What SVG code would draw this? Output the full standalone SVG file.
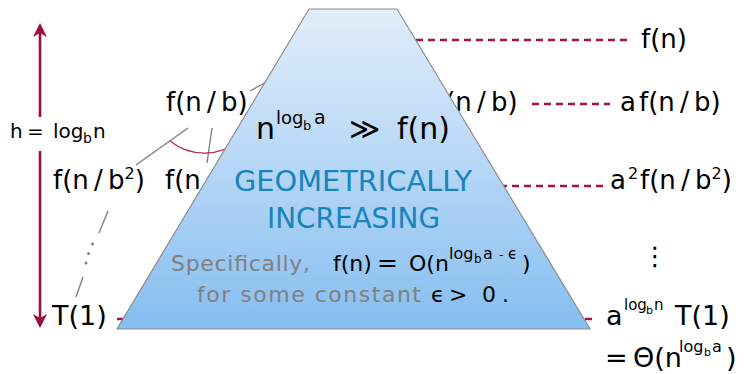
<svg xmlns="http://www.w3.org/2000/svg" width="753" height="374" viewBox="0 0 753 374">
<defs>
<style>
.t{font-family:"DejaVu Sans","Liberation Sans",sans-serif;fill:#000}
.g{fill:#808080}
.teal{fill:#1784bb}
.dash{stroke:#a3134a;stroke-width:2.4;stroke-dasharray:7 5;fill:none}
.edge{stroke:#808080;stroke-width:1.4;fill:none}
.arc{stroke:#b0285a;stroke-width:1.2;fill:none}
.arrow{stroke:#9c0c40;stroke-width:2.6;fill:none}
</style>
<linearGradient id="tg" x1="0" y1="0" x2="0" y2="1">
<stop offset="0" stop-color="#e1edfa"/>
<stop offset="0.5" stop-color="#b5d6f6"/>
<stop offset="1" stop-color="#85bef0"/>
</linearGradient>
<marker id="ah" viewBox="0 0 14 14" markerWidth="14" markerHeight="14" refX="10" refY="7" orient="auto" markerUnits="userSpaceOnUse">
<path d="M0,0 L14,7 L0,14 L4,7 z" fill="#9c0c40"/>
</marker>
</defs>
<rect width="753" height="374" fill="#fff"/>

<g id="connectors">
<line class="arrow" x1="40" y1="117" x2="40" y2="27" marker-end="url(#ah)"/>
<line class="arrow" x1="40" y1="151" x2="40" y2="324" marker-end="url(#ah)"/>
<line class="dash" x1="392" y1="40" x2="629" y2="40"/>
<line class="dash" x1="532" y1="104" x2="610" y2="104"/>
<line class="dash" x1="500" y1="186" x2="603" y2="186"/>
<line class="dash" x1="117" y1="319" x2="597" y2="319"/>
<line class="edge" x1="250" y1="91" x2="290" y2="69"/>
<line class="edge" x1="188" y1="128" x2="136" y2="165"/>
<line class="edge" x1="212" y1="128" x2="207" y2="163"/>
<path class="arc" d="M170,141 A55,55 0 0 0 240,140"/>
<line class="edge" x1="108" y1="211" x2="99" y2="233"/>
<circle cx="92.5" cy="244" r="1.5" fill="#808080"/>
<circle cx="88.5" cy="253.5" r="1.5" fill="#808080"/>
<circle cx="86" cy="263" r="1.5" fill="#808080"/>
<line class="edge" x1="83" y1="277" x2="76" y2="297"/>
</g>

<g id="node-fnb-mid">
<text class="t" x="436" y="111" font-size="26">f(n&#8201;/&#8201;b)</text>
</g>
<g id="node-fnb2-mid">
<text class="t" x="165" y="189" font-size="26">f(n&#8201;/&#8201;b<tspan font-size="16" dy="-10">2</tspan><tspan dy="10">)</tspan></text>
</g>

<g id="trapezoid">
<polygon points="309,9 397,9 590,329 117,329" fill="url(#tg)" stroke="#8c8c8c" stroke-width="1.2"/>
<text class="t" font-size="30"><tspan x="256" y="139">n</tspan><tspan x="276" y="124" font-size="18">log</tspan><tspan x="303" y="130" font-size="13">b</tspan><tspan x="314" y="124" font-size="19">a</tspan><tspan x="349" y="139">≫</tspan><tspan x="397" y="139">f(n)</tspan></text>
<text class="t teal" x="234" y="191" font-size="28" textLength="238" lengthAdjust="spacingAndGlyphs">GEOMETRICALLY</text>
<text class="t teal" x="267" y="228" font-size="28" textLength="173" lengthAdjust="spacingAndGlyphs">INCREASING</text>
<text class="t g" x="171" y="271" font-size="22" textLength="139">Specifically,</text>
<text class="t" font-size="22"><tspan x="333" y="271">f(n)</tspan><tspan x="377" y="271" font-size="25">=</tspan><tspan x="409" y="271">O(n</tspan><tspan x="449" y="259" font-size="16">log</tspan><tspan x="474" y="263" font-size="12">b</tspan><tspan x="483" y="259" font-size="16">a</tspan><tspan x="499" y="259" font-size="12">-</tspan><tspan x="508" y="259" font-size="15">ϵ</tspan><tspan x="522" y="271">)</tspan></text>
<text class="t g" x="197" y="302" font-size="22" textLength="224">for some constant</text>
<text class="t" font-size="22"><tspan x="431" y="302">ϵ</tspan><tspan x="449" y="302">&gt;</tspan><tspan x="482" y="302">0</tspan><tspan x="502" y="302">.</tspan></text>
</g>

<g id="label-h">
<text class="t" font-size="20"><tspan x="10" y="138">h</tspan><tspan x="27" y="138">=</tspan><tspan x="53" y="138">log</tspan><tspan x="83" y="143" font-size="14">b</tspan><tspan x="93" y="138">n</tspan></text>
</g>
<g id="node-fnb-left">
<text class="t" x="166" y="111" font-size="26">f(n&#8201;/&#8201;b)</text>
</g>
<g id="node-fnb2-left">
<text class="t" x="53" y="189" font-size="26">f(n&#8201;/&#8201;b<tspan font-size="16" dy="-10">2</tspan><tspan dy="10">)</tspan></text>
</g>
<g id="node-t1">
<text class="t" x="52" y="325" font-size="27">T(1)</text>
</g>
<g id="sum-fn">
<text class="t" x="641" y="47.5" font-size="26">f(n)</text>
</g>
<g id="sum-afnb">
<text class="t" font-size="26"><tspan x="620" y="111">a</tspan><tspan x="639" y="111">f(n&#8201;/&#8201;b)</tspan></text>
</g>
<g id="sum-a2fnb2">
<text class="t" font-size="26"><tspan x="610" y="189">a</tspan><tspan x="628" y="179" font-size="16">2</tspan><tspan x="640" y="189">f(n&#8201;/&#8201;b</tspan><tspan font-size="16" dy="-10">2</tspan><tspan dy="10">)</tspan></text>
</g>
<g id="sum-dots">
<text class="t" x="655" y="265" font-size="26" text-anchor="middle">⋮</text>
</g>
<g id="sum-leaves">
<text class="t" font-size="27"><tspan x="606" y="325">a</tspan><tspan x="624" y="310" font-size="15">log</tspan><tspan x="646" y="314" font-size="11">b</tspan><tspan x="654" y="310" font-size="15">n</tspan><tspan x="675" y="325">T(1)</tspan></text>
<text class="t" font-size="27"><tspan x="605" y="367">=</tspan><tspan x="633" y="367">Θ(n</tspan><tspan x="679" y="352" font-size="16">log</tspan><tspan x="704" y="356" font-size="11">b</tspan><tspan x="712" y="352" font-size="16">a</tspan><tspan x="726" y="367">)</tspan></text>
</g>
</svg>
